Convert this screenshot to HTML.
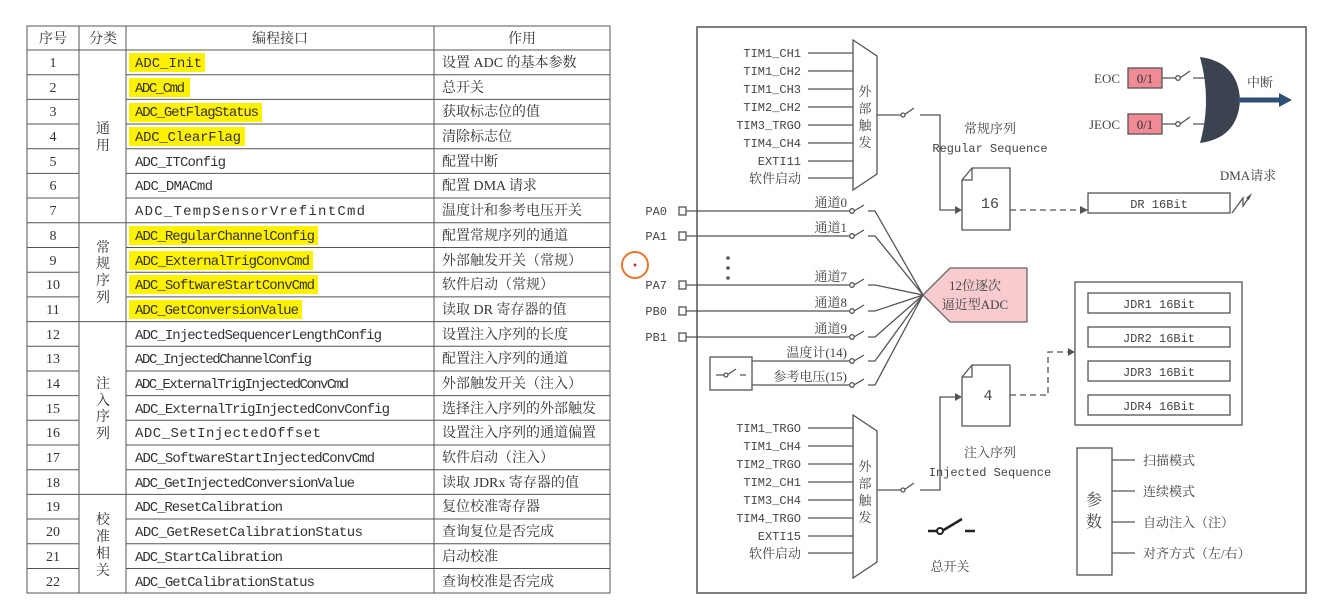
<!DOCTYPE html>
<html><head><meta charset="utf-8"><style>
body{margin:0;background:#fff;}
svg{display:block;}
.t{font-family:"Liberation Serif","Noto Serif CJK SC",serif;font-size:14px;fill:#333;}
.m{font-family:"Liberation Mono","Noto Serif CJK SC",monospace;font-size:14px;fill:#333;}
.s{font-family:"Liberation Serif","Noto Serif CJK SC",serif;font-size:13px;fill:#444;}
.sm{font-family:"Liberation Mono",monospace;font-size:12px;fill:#444;}
</style></head><body>
<svg width="1326" height="615" viewBox="0 0 1326 615" xmlns="http://www.w3.org/2000/svg">
<rect width="1326" height="615" fill="#fff"/>
<!-- highlights -->
<g fill="#fff200">
<rect x="129" y="53" width="76" height="19"/>
<rect x="129" y="78" width="61" height="19"/>
<rect x="129" y="103" width="133" height="19"/>
<rect x="129" y="127" width="116" height="19"/>
<rect x="129" y="226" width="189" height="19"/>
<rect x="129" y="251" width="184" height="19"/>
<rect x="129" y="275" width="189" height="19"/>
<rect x="129" y="300" width="173" height="19"/>
</g>
<!-- table lines -->
<g stroke="#555" stroke-width="1" fill="none">
<rect x="27" y="26" width="583" height="567"/>
<line x1="79" y1="26" x2="79" y2="593"/>
<line x1="126" y1="26" x2="126" y2="593"/>
<line x1="434" y1="26" x2="434" y2="593"/>
<line x1="27" y1="50" x2="610" y2="50"/>
<path d="M27 74.7H79M126 74.7H610M27 99.4H79M126 99.4H610M27 124H79M126 124H610M27 148.7H79M126 148.7H610M27 173.4H79M126 173.4H610M27 198H79M126 198H610M27 222.8H610M27 247.5H79M126 247.5H610M27 272.2H79M126 272.2H610M27 296.9H79M126 296.9H610M27 321.6H610M27 346.3H79M126 346.3H610M27 371H79M126 371H610M27 395.6H79M126 395.6H610M27 420.3H79M126 420.3H610M27 445H79M126 445H610M27 469.7H79M126 469.7H610M27 494.4H610M27 519H79M126 519H610M27 543.8H79M126 543.8H610M27 568.5H79M126 568.5H610"/>
</g>
<g class="t" text-anchor="middle">
<text x="53" y="43">序号</text><text x="103" y="43">分类</text><text x="280" y="43">编程接口</text><text x="522" y="43">作用</text>
<text x="53" y="67">1</text><text x="53" y="92">2</text><text x="53" y="116">3</text><text x="53" y="141">4</text><text x="53" y="166">5</text><text x="53" y="190">6</text><text x="53" y="215">7</text><text x="53" y="240">8</text><text x="53" y="265">9</text><text x="53" y="289">10</text><text x="53" y="314">11</text><text x="53" y="339">12</text><text x="53" y="363">13</text><text x="53" y="388">14</text><text x="53" y="413">15</text><text x="53" y="437">16</text><text x="53" y="462">17</text><text x="53" y="487">18</text><text x="53" y="511">19</text><text x="53" y="536">20</text><text x="53" y="561">21</text><text x="53" y="586">22</text>
<text x="103" y="133">通</text><text x="103" y="150">用</text>
<text x="103" y="252">常</text><text x="103" y="268">规</text><text x="103" y="285">序</text><text x="103" y="302">列</text>
<text x="103" y="388">注</text><text x="103" y="405">入</text><text x="103" y="421">序</text><text x="103" y="438">列</text>
<text x="103" y="524">校</text><text x="103" y="541">准</text><text x="103" y="558">相</text><text x="103" y="575">关</text>
</g>
<g class="m">
<text x="135" y="67" textLength="67">ADC_Init</text>
<text x="135" y="92" textLength="50">ADC_Cmd</text>
<text x="135" y="116" textLength="124">ADC_GetFlagStatus</text>
<text x="135" y="141" textLength="106">ADC_ClearFlag</text>
<text x="135" y="166" textLength="91">ADC_ITConfig</text>
<text x="135" y="190" textLength="78">ADC_DMACmd</text>
<text x="135" y="215" textLength="230">ADC_TempSensorVrefintCmd</text>
<text x="135" y="240" textLength="180">ADC_RegularChannelConfig</text>
<text x="135" y="265" textLength="175">ADC_ExternalTrigConvCmd</text>
<text x="135" y="289" textLength="180">ADC_SoftwareStartConvCmd</text>
<text x="135" y="314" textLength="164">ADC_GetConversionValue</text>
<text x="135" y="339" textLength="247">ADC_InjectedSequencerLengthConfig</text>
<text x="135" y="363" textLength="177">ADC_InjectedChannelConfig</text>
<text x="135" y="388" textLength="214">ADC_ExternalTrigInjectedConvCmd</text>
<text x="135" y="413" textLength="255">ADC_ExternalTrigInjectedConvConfig</text>
<text x="135" y="437" textLength="186">ADC_SetInjectedOffset</text>
<text x="135" y="462" textLength="240">ADC_SoftwareStartInjectedConvCmd</text>
<text x="135" y="487" textLength="220">ADC_GetInjectedConversionValue</text>
<text x="135" y="511" textLength="148">ADC_ResetCalibration</text>
<text x="135" y="536" textLength="228">ADC_GetResetCalibrationStatus</text>
<text x="135" y="561" textLength="148">ADC_StartCalibration</text>
<text x="135" y="586" textLength="180">ADC_GetCalibrationStatus</text>
</g>
<g class="t">
<text x="442" y="67">设置 ADC 的基本参数</text><text x="442" y="92">总开关</text><text x="442" y="116">获取标志位的值</text><text x="442" y="141">清除标志位</text><text x="442" y="166">配置中断</text><text x="442" y="190">配置 DMA 请求</text><text x="442" y="215">温度计和参考电压开关</text><text x="442" y="240">配置常规序列的通道</text><text x="442" y="265">外部触发开关（常规）</text><text x="442" y="289">软件启动（常规）</text><text x="442" y="314">读取 DR 寄存器的值</text><text x="442" y="339">设置注入序列的长度</text><text x="442" y="363">配置注入序列的通道</text><text x="442" y="388">外部触发开关（注入）</text><text x="442" y="413">选择注入序列的外部触发</text><text x="442" y="437">设置注入序列的通道偏置</text><text x="442" y="462">软件启动（注入）</text><text x="442" y="487">读取 JDRx 寄存器的值</text><text x="442" y="511">复位校准寄存器</text><text x="442" y="536">查询复位是否完成</text><text x="442" y="561">启动校准</text><text x="442" y="586">查询校准是否完成</text>
</g>
<!-- orange circle -->
<circle cx="635" cy="265" r="13" fill="none" stroke="#e8772e" stroke-width="2"/>
<circle cx="635" cy="265" r="1.5" fill="#c33"/>

<!-- diagram -->
<rect x="697" y="27" width="609" height="566" fill="none" stroke="#555" stroke-width="1.5"/>
<g stroke="#555" stroke-width="1.3" fill="none">
<!-- upper mux -->
<path d="M853 40L877 56V174L853 190Z" fill="#fff"/>
<path d="M808 53H853M808 71H853M808 89H853M808 107H853M808 125H853M808 143H853M808 161H853M808 178H853"/>
<path d="M877 115H902M904 115L914 108M920 115H940V210H958"/>
<circle cx="903" cy="115" r="2" fill="#fff"/>
<!-- lower mux -->
<path d="M853 415L877 431V562L853 578Z" fill="#fff"/>
<path d="M808 428H853M808 446H853M808 464H853M808 482H853M808 500H853M808 518H853M808 536H853M808 553H853"/>
<path d="M877 490H902M904 490L914 483M920 490H940V397H958"/>
<circle cx="903" cy="490" r="2" fill="#fff"/>
<!-- docs -->
<path d="M962 180L972 168H1010V230H962Z" fill="#fff"/>
<path d="M962 180H972V168"/>
<path d="M962 377L972 365H1010V426H962Z" fill="#fff"/>
<path d="M962 377H972V365"/>
<path d="M1010 210H1080" stroke-dasharray="6,4"/>
<path d="M1010 395H1048V352H1070" stroke-dasharray="6,4"/>
<rect x="1088" y="193" width="142" height="20"/>
<path d="M1232 213L1243 198L1243 206L1250 196"/>
<rect x="1075" y="282" width="167" height="143"/>
<rect x="1088" y="293" width="142" height="20"/>
<rect x="1088" y="327" width="142" height="20"/>
<rect x="1088" y="361" width="142" height="20"/>
<rect x="1088" y="395" width="142" height="20"/>
<!-- channels -->
<rect x="679" y="207" width="7" height="8"/>
<rect x="679" y="232" width="7" height="8"/>
<rect x="679" y="281" width="7" height="8"/>
<rect x="679" y="307" width="7" height="8"/>
<rect x="679" y="333" width="7" height="8"/>
<path d="M686 211H850M686 236H850M686 285H850M686 311H850M686 337H850M752 361H850M752 385H850"/>
<path d="M854 211L864 205M854 236L864 230M854 285L864 279M854 311L864 305M854 337L864 331M854 361L864 355M854 385L864 379"/>
<path d="M868 211H875L923 295M868 236H875L923 295M868 285H875L923 295M868 311H875L923 295M868 337H875L923 295M868 361H875L923 295M868 385H875L923 295"/>
<rect x="710" y="357" width="42" height="33"/>
<path d="M716 375H725M727 375L736 369M740 375H746"/>
<!-- params -->
<rect x="1077" y="448" width="35" height="127"/>
<path d="M1112 460H1135M1112 491H1135M1112 522H1135M1112 553H1135"/>
<!-- EOC -->
<path d="M1162 78H1176M1180 78L1190 71M1193 78H1205M1162 124H1176M1180 124L1190 117M1193 124H1205"/>
</g>
<g fill="#fff" stroke="#555" stroke-width="1.3">
<circle cx="852" cy="211" r="2.3"/><circle cx="852" cy="236" r="2.3"/><circle cx="852" cy="285" r="2.3"/><circle cx="852" cy="311" r="2.3"/><circle cx="852" cy="337" r="2.3"/><circle cx="852" cy="361" r="2.3"/><circle cx="852" cy="385" r="2.3"/>
<circle cx="726" cy="375" r="2"/>
<circle cx="1178" cy="78" r="2.3"/><circle cx="1178" cy="124" r="2.3"/>
</g>
<!-- arrowheads -->
<g fill="#555">
<path d="M962 210L955 206V214Z"/><path d="M962 397L955 393V401Z"/>
<path d="M1088 210L1080 206V214Z"/><path d="M1075 352L1068 348V356Z"/>
<path d="M1252 193L1246 198L1249 200Z"/>
<circle cx="728" cy="258" r="1.8"/><circle cx="728" cy="268" r="1.8"/><circle cx="728" cy="278" r="1.8"/>
</g>
<!-- ADC pentagon -->
<path d="M923 295L950 268H1027V322H950Z" fill="#f8cccf" stroke="#666" stroke-width="1.3"/>
<!-- EOC boxes -->
<rect x="1128" y="68" width="34" height="20" fill="#f08a94" stroke="#555" stroke-width="1.3"/>
<rect x="1128" y="114" width="34" height="20" fill="#f08a94" stroke="#555" stroke-width="1.3"/>
<!-- OR gate -->
<path d="M1200 57Q1238 62 1240 100Q1238 138 1200 143Q1212 100 1200 57Z" fill="#3c4350"/>
<path d="M1238 100H1280" stroke="#2f4f74" stroke-width="5"/>
<path d="M1292 100L1279 93V107Z" fill="#2f4f74"/>
<!-- main switch -->
<path d="M928 531H938M942 531L962 519M965 531H975" stroke="#222" stroke-width="2.5" fill="none"/>
<circle cx="940" cy="531" r="3" fill="#fff" stroke="#222" stroke-width="2"/>
<!-- labels -->
<g class="sm" text-anchor="end">
<text x="801" y="57">TIM1_CH1</text><text x="801" y="75">TIM1_CH2</text><text x="801" y="93">TIM1_CH3</text><text x="801" y="111">TIM2_CH2</text><text x="801" y="129">TIM3_TRGO</text><text x="801" y="147">TIM4_CH4</text><text x="801" y="165">EXTI11</text>
<text x="801" y="432">TIM1_TRGO</text><text x="801" y="450">TIM1_CH4</text><text x="801" y="468">TIM2_TRGO</text><text x="801" y="486">TIM2_CH1</text><text x="801" y="504">TIM3_CH4</text><text x="801" y="522">TIM4_TRGO</text><text x="801" y="540">EXTI15</text>
<text x="667" y="215">PA0</text><text x="667" y="240">PA1</text><text x="667" y="289">PA7</text><text x="667" y="315">PB0</text><text x="667" y="341">PB1</text>
</g>
<g class="s" text-anchor="end">
<text x="801" y="183">软件启动</text><text x="801" y="558">软件启动</text>
<text x="847" y="207">通道0</text><text x="847" y="232">通道1</text><text x="847" y="281">通道7</text><text x="847" y="307">通道8</text><text x="847" y="333">通道9</text><text x="847" y="357">温度计(14)</text><text x="847" y="381">参考电压(15)</text>
<text x="1120" y="83">EOC</text><text x="1120" y="129">JEOC</text>
</g>
<g class="s" text-anchor="middle">
<text x="865" y="96">外</text><text x="865" y="113">部</text><text x="865" y="130">触</text><text x="865" y="147">发</text>
<text x="865" y="471">外</text><text x="865" y="488">部</text><text x="865" y="505">触</text><text x="865" y="522">发</text>
<text x="990" y="133">常规序列</text><text x="990" y="457">注入序列</text>
<text x="950" y="571">总开关</text>
<text x="975" y="290">12位逐次</text><text x="975" y="309">逼近型ADC</text>
<text x="1145" y="83" fill="#333">0/1</text><text x="1145" y="129" fill="#333">0/1</text>
<text x="1248" y="180">DMA请求</text>
<text x="1260" y="87">中断</text>
<text x="1094" y="505" style="font-size:16px">参</text><text x="1094" y="527" style="font-size:16px">数</text>
</g>
<g class="sm" text-anchor="middle">
<text x="990" y="152">Regular Sequence</text><text x="990" y="476">Injected Sequence</text>
<text x="990" y="208" style="font-size:15px">16</text><text x="988" y="400" style="font-size:15px">4</text>
<text x="1159" y="208">DR 16Bit</text>
<text x="1159" y="308">JDR1 16Bit</text><text x="1159" y="342">JDR2 16Bit</text><text x="1159" y="376">JDR3 16Bit</text><text x="1159" y="410">JDR4 16Bit</text>
</g>
<g class="s">
<text x="1143" y="465">扫描模式</text><text x="1143" y="496">连续模式</text><text x="1143" y="527">自动注入（注）</text><text x="1143" y="558">对齐方式（左/右）</text>
</g>
</svg>
</body></html>
